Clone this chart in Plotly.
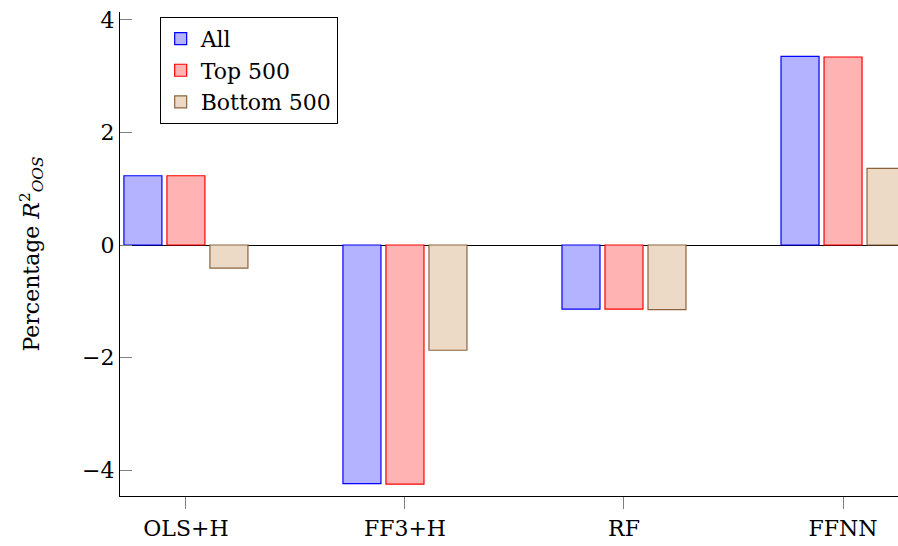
import plotly.graph_objects as go

# Out-of-sample R^2 (in percent) by model and stock universe
models = ["OLS+H", "FF3+H", "RF", "FFNN"]
r2_all = [1.23, -4.24, -1.14, 3.35]
r2_top500 = [1.23, -4.25, -1.14, 3.34]
r2_bottom500 = [-0.41, -1.87, -1.15, 1.36]

series = [
    ("All", r2_all, "rgb(179,179,255)", "rgb(0,0,255)"),
    ("Top 500", r2_top500, "rgb(255,179,179)", "rgb(255,0,0)"),
    ("Bottom 500", r2_bottom500, "rgb(236,217,198)", "rgb(140,100,60)"),
]

FONT = "DejaVu Serif"
FS = 22

fig = go.Figure()
for name, vals, fill, edge in series:
    fig.add_trace(go.Bar(
        x=models, y=vals, name=name,
        marker=dict(color=fill, line=dict(color=edge, width=1.2)),
    ))

fig.update_layout(
    width=898, height=546,
    margin=dict(l=120, r=0, t=12, b=50),
    paper_bgcolor="white", plot_bgcolor="white",
    barmode="group", bargap=0.411, bargroupgap=0.116,
    font=dict(family=FONT, size=FS, color="black"),
    showlegend=True,
    legend=dict(
        x=0.051, y=0.99, xanchor="left", yanchor="top",
        bordercolor="black", borderwidth=1, bgcolor="white",
        font=dict(family=FONT, size=FS, color="black"),
    ),
    xaxis=dict(
        range=[-0.301, 3.251],
        showline=True, linecolor="black", linewidth=1.2,
        ticks="outside", ticklen=12, tickcolor="gray", tickwidth=1,
        showgrid=False, zeroline=False,
        tickfont=dict(family=FONT, size=FS, color="black"),
    ),
    yaxis=dict(
        range=[-4.46, 4.14],
        tickvals=[-4, -2, 0, 2, 4],
        showline=True, linecolor="black", linewidth=1.2,
        ticks="inside", ticklen=12, tickcolor="gray", tickwidth=1,
        showgrid=False,
        zeroline=True, zerolinecolor="black", zerolinewidth=1,
        tickfont=dict(family=FONT, size=FS, color="black"),
        title=dict(text="Percentage <i>R</i><sup>2</sup><sub><i>OOS</i></sub>",
                   font=dict(family=FONT, size=FS, color="black"), standoff=36),
    ),
)

fig.write_html("out.html")
